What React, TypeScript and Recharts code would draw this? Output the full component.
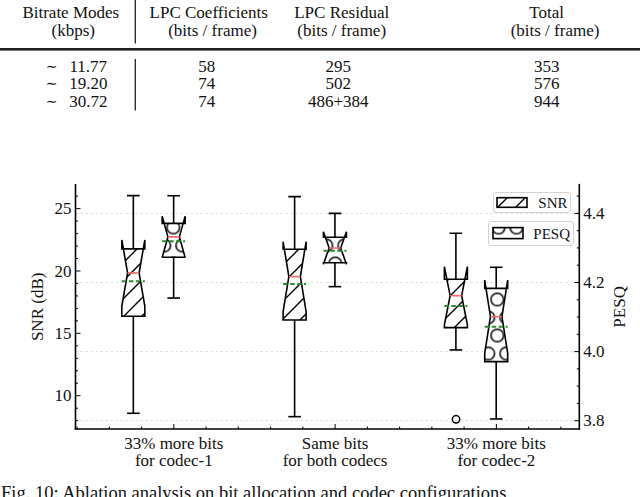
import React from 'react';
import { ComposedChart, Bar, Scatter, XAxis, YAxis, CartesianGrid, Legend } from 'recharts';

const FONT = '"Liberation Serif", "Times New Roman", Times, serif';
const INK = '#111';

// ---------------- table ----------------
const tableHeaderTop = ['Bitrate Modes', 'LPC Coefficients', 'LPC Residual', 'Total'];
const tableHeaderBottom = ['(kbps)', '(bits / frame)', '(bits / frame)', '(bits / frame)'];
const bitrateModes = ['11.77', '19.20', '30.72'];
const lpcCoefficientBits = ['58', '74', '74'];
const lpcResidualBits = ['295', '502', '486+384'];
const totalBits = ['353', '576', '944'];
const captionText = 'Fig. 10:  Ablation analysis on bit allocation and codec configurations';

// ---------------- chart ----------------
const groupLabelTop = ['33% more bits', 'Same bits', '33% more bits'];
const groupLabelBottom = ['for codec-1', 'for both codecs', 'for codec-2'];
const seriesNames = ['SNR', 'PESQ'];
const axisTitles = ['SNR (dB)', 'PESQ'];

const snrWhiskerHigh = [26.04, 25.96, 23.03];
const snrNotchHigh = [22.49, 22.35, 20.35];
const snrQ3 = [21.77, 21.74, 19.34];
const snrMedian = [19.84, 19.55, 18.02];
const snrMean = [19.18, 18.96, 17.2];
const snrNotchLow = [17.19, 16.75, 15.69];
const snrQ1 = [16.37, 16.07, 15.46];
const snrWhiskerLow = [8.59, 8.32, 13.67];
const snrOutlierGroup = [2];
const snrOutlierValue = [8.11];

const pesqWhiskerHigh = [4.451, 4.4, 4.244];
const pesqNotchHigh = [4.392, 4.347, 4.207];
const pesqQ3 = [4.371, 4.331, 4.183];
const pesqMedian = [4.332, 4.3, 4.101];
const pesqMean = [4.319, 4.292, 4.072];
const pesqNotchLow = [4.272, 4.253, 3.995];
const pesqQ1 = [4.273, 4.257, 3.971];
const pesqWhiskerLow = [4.155, 4.188, 3.805];

const snrDomain = [7.33, 26.92];
const pesqDomain = [3.776, 4.483];
const snrMajorTicks = [10, 15, 20, 25];
const snrMinorTicks = [8, 9, 11, 12, 13, 14, 16, 17, 18, 19, 21, 22, 23, 24, 26];
const pesqMajorTicks = [3.8, 4.0, 4.2, 4.4];
const pesqMinorTicks = [3.85, 3.9, 3.95, 4.05, 4.1, 4.15, 4.25, 4.3, 4.35, 4.45];
// x positions in "slot" units: SNR boxes at slots 0,4,8; PESQ boxes at 1,5,9
const xMajorTicks = [1, 5, 9];
const xMinorTicks = [-1.4, -0.6, 0.2, 1.8, 2.6, 3.4, 4.2, 5.8, 6.6, 7.4, 8.2, 9.8, 10.6];

// ---------------- layout ----------------
const W = 640;
const H = 497;
const PLOT_TOP = 184.7;
const LEFT_AXIS_W = 75.5;
const RIGHT_AXIS_W = 60.7;
const BOTTOM_AXIS_H = 68;
const SLOT_COUNT = 11;
const PAD_L = 37.84;
const PAD_R = 22.46;
const PLOT_W = W - LEFT_AXIS_W - RIGHT_AXIS_W;
const BAND = (PLOT_W - PAD_L - PAD_R) / SLOT_COUNT;
const xDomain = [-0.5 - PAD_L / BAND, SLOT_COUNT - 0.5 + PAD_R / BAND];
const BOX_HALF = 11.5;
const CAP_HALF = 6.3;
const LW = 1.6;

type Stats = { high: number; nhi: number; q3: number; med: number; mean: number; nlo: number; q1: number; low: number };

const snrStats = (g: number): Stats => ({
  high: snrWhiskerHigh[g], nhi: snrNotchHigh[g], q3: snrQ3[g], med: snrMedian[g],
  mean: snrMean[g], nlo: snrNotchLow[g], q1: snrQ1[g], low: snrWhiskerLow[g],
});
const pesqStats = (g: number): Stats => ({
  high: pesqWhiskerHigh[g], nhi: pesqNotchHigh[g], q3: pesqQ3[g], med: pesqMedian[g],
  mean: pesqMean[g], nlo: pesqNotchLow[g], q1: pesqQ1[g], low: pesqWhiskerLow[g],
});

const slotRows = Array.from({ length: SLOT_COUNT }, (_, slot) => {
  const g = Math.floor(slot / 4);
  const r = slot % 4;
  const row: any = { slot };
  if (g < groupLabelTop.length && r === 0) row.snr = snrStats(g);
  if (g < groupLabelTop.length && r === 1) row.pesq = pesqStats(g);
  return row;
});

const outlierRows = snrOutlierGroup.map((g, i) => ({ x: g * 4, y: snrOutlierValue[i] }));

const near = (a: number, list: number[]) => list.some((m) => Math.abs(m - a) < 1e-6);

function BoxGlyph(props: any) {
  const { x, y, width, height, stats, fill } = props;
  if (!stats || ![x, y, width, height].every((v: any) => Number.isFinite(v))) return null;
  const top = Math.min(y, y + height);
  const bottom = Math.max(y, y + height);
  const px = (v: number) => top + ((bottom - top) * (stats.high - v)) / (stats.high - stats.low);
  const cx = x + width / 2;
  const w = BOX_HALF;
  const pts = [
    [cx - w, px(stats.q1)], [cx + w, px(stats.q1)], [cx + w, px(stats.nlo)], [cx + w / 2, px(stats.med)],
    [cx + w, px(stats.nhi)], [cx + w, px(stats.q3)], [cx - w, px(stats.q3)], [cx - w, px(stats.nhi)],
    [cx - w / 2, px(stats.med)], [cx - w, px(stats.nlo)],
  ].map((p) => p.join(',')).join(' ');
  return (
    <g>
      <line x1={cx} x2={cx} y1={px(stats.q3)} y2={px(stats.high)} stroke="#000" strokeWidth={LW} />
      <line x1={cx} x2={cx} y1={px(stats.q1)} y2={px(stats.low)} stroke="#000" strokeWidth={LW} />
      <line x1={cx - CAP_HALF} x2={cx + CAP_HALF} y1={px(stats.high)} y2={px(stats.high)} stroke="#000" strokeWidth={LW} />
      <line x1={cx - CAP_HALF} x2={cx + CAP_HALF} y1={px(stats.low)} y2={px(stats.low)} stroke="#000" strokeWidth={LW} />
      <polygon points={pts} fill="#fff" />
      <polygon points={pts} fill={fill} stroke="#000" strokeWidth={LW} strokeLinejoin="miter" />
      <line x1={cx - w / 2} x2={cx + w / 2} y1={px(stats.med)} y2={px(stats.med)} stroke="#f06a6a" strokeWidth={1.6} />
      <line x1={cx - w} x2={cx + w} y1={px(stats.mean)} y2={px(stats.mean)} stroke="#2e8b2e" strokeWidth={2} strokeDasharray="4.5 2.5" />
    </g>
  );
}

const textStyle = { fontFamily: FONT, fontSize: 17, fill: INK } as const;

function LeftTick(props: any) {
  const { x, y, payload } = props;
  const v = payload.value;
  const major = near(v, snrMajorTicks);
  return (
    <g>
      <line x1={x} x2={x + (major ? 5 : 2.5)} y1={y} y2={y} stroke="#000" strokeWidth={1} />
      {major && (
        <text x={x - 4} y={y} dy="0.34em" textAnchor="end" style={textStyle}>{String(v)}</text>
      )}
    </g>
  );
}

function RightTick(props: any) {
  const { x, y, payload } = props;
  const v = payload.value;
  const major = near(v, pesqMajorTicks);
  return (
    <g>
      <line x1={x} x2={x - (major ? 5 : 2.5)} y1={y} y2={y} stroke="#000" strokeWidth={1} />
      {major && (
        <text x={x + 4} y={y} dy="0.34em" textAnchor="start" style={textStyle}>{v.toFixed(1)}</text>
      )}
    </g>
  );
}

function BottomTick(props: any) {
  const { x, y, payload } = props;
  const v = payload.value;
  const gi = xMajorTicks.findIndex((m) => Math.abs(m - v) < 1e-6);
  const major = gi >= 0;
  return (
    <g>
      <line x1={x} x2={x} y1={y} y2={y - (major ? 5 : 2.5)} stroke="#000" strokeWidth={1} />
      {major && (
        <text textAnchor="middle" style={textStyle}>
          <tspan x={x} y={y + 19.5}>{groupLabelTop[gi]}</tspan>
          <tspan x={x} y={y + 37}>{groupLabelBottom[gi]}</tspan>
        </text>
      )}
    </g>
  );
}

function TopTick(props: any) {
  const { x, y, payload } = props;
  const major = near(payload.value, xMajorTicks);
  return <line x1={x} x2={x} y1={y} y2={y + (major ? 5 : 2.5)} stroke="#000" strokeWidth={1} />;
}

const leftTitle = (props: any) => {
  const vb = props.viewBox || {};
  const x = vb.x + vb.width - 32.5;
  const y = vb.y + vb.height / 2;
  return (
    <text x={x} y={y} transform={`rotate(-90, ${x}, ${y})`} textAnchor="middle" style={textStyle}>{axisTitles[0]}</text>
  );
};
const rightTitle = (props: any) => {
  const vb = props.viewBox || {};
  const x = vb.x + 45.7;
  const y = vb.y + vb.height / 2;
  return (
    <text x={x} y={y} transform={`rotate(-90, ${x}, ${y})`} textAnchor="middle" style={textStyle}>{axisTitles[1]}</text>
  );
};

const legendFrames = [
  { left: 492.7, top: 191.7, width: 78, height: 21, px: 4, py: 5.7, pw: 30, ph: 9.6 },
  { left: 487.7, top: 220.7, width: 86.3, height: 25.3, px: 5, py: 6.6, pw: 30, ph: 11 },
];

function LegendContent(props: any) {
  const payload = (props.payload || []).filter((e: any) => seriesNames.includes(e.value));
  return (
    <div style={{ position: 'relative', width: W, height: 0 }}>
      {payload.map((entry: any) => {
        const i = seriesNames.indexOf(entry.value);
        const f = legendFrames[i];
        return (
          <div
            key={entry.value}
            style={{
              position: 'absolute', left: f.left, top: f.top, width: f.width, height: f.height,
              boxSizing: 'border-box', border: '1px solid #d2d2d2', borderRadius: 3,
              background: 'rgba(255,255,255,0.85)',
            }}
          >
            <svg width={f.width} height={f.height} style={{ position: 'absolute', left: -1, top: -1, overflow: 'visible' }}>
              <defs>
                <pattern id="lg-snr" patternUnits="userSpaceOnUse" x={2} y={0} width={18} height={18}>
                  <path d="M-2,2 L2,-2 M0,18 L18,0 M16,20 L20,16" stroke="#000" strokeWidth={1.4} />
                </pattern>
                <pattern id="lg-pesq" patternUnits="userSpaceOnUse" x={10.5} y={6.6} width={18} height={36}>
                  <g fill="none" stroke="#000" strokeWidth={1.5}>
                    <circle cx={0} cy={0} r={6.3} />
                    <circle cx={18} cy={0} r={6.3} />
                    <circle cx={0} cy={36} r={6.3} />
                    <circle cx={18} cy={36} r={6.3} />
                    <circle cx={9} cy={18} r={6.3} />
                  </g>
                </pattern>
              </defs>
              <rect x={f.px} y={f.py} width={f.pw} height={f.ph} fill="#fff" />
              <rect x={f.px} y={f.py} width={f.pw} height={f.ph} fill={i === 0 ? 'url(#lg-snr)' : 'url(#lg-pesq)'} stroke="#000" strokeWidth={1.6} />
              <text x={45.3} y={f.height / 2 + 0.5} dy="0.34em" style={{ fontFamily: FONT, fontSize: 15, fill: INK }}>{entry.value}</text>
            </svg>
          </div>
        );
      })}
    </div>
  );
}

function TableAndCaption() {
  const headCx1 = [70.8, 208.7, 341.7, 546.7];
  const headCx2 = [73.3, 212.5, 341.7, 555];
  const dataCx = [206.7, 338.3, 546.7];
  const rowBase = [71.7, 89.3, 106.7];
  const t = { ...textStyle, textAnchor: 'middle' as const };
  return (
    <svg width={W} height={H} style={{ position: 'absolute', left: 0, top: 0 }}>
      {tableHeaderTop.map((s, i) => (
        <text key={'h1' + i} x={headCx1[i]} y={18.3} textAnchor="middle" style={t}>{s}</text>
      ))}
      {tableHeaderBottom.map((s, i) => (
        <text key={'h2' + i} x={headCx2[i]} y={36} textAnchor="middle" style={t}>{s}</text>
      ))}
      {bitrateModes.map((s, r) => (
        <g key={'r' + r}>
          <text x={51.5} y={rowBase[r] - 1} textAnchor="middle" style={{ fontFamily: '"DejaVu Serif", serif', fontSize: 14, fill: INK }}>∼</text>
          <text x={88.3} y={rowBase[r]} textAnchor="middle" style={t}>{s}</text>
          <text x={dataCx[0]} y={rowBase[r]} textAnchor="middle" style={t}>{lpcCoefficientBits[r]}</text>
          <text x={dataCx[1]} y={rowBase[r]} textAnchor="middle" style={t}>{lpcResidualBits[r]}</text>
          <text x={dataCx[2]} y={rowBase[r]} textAnchor="middle" style={t}>{totalBits[r]}</text>
        </g>
      ))}
      <line x1={135.3} x2={135.3} y1={0} y2={43.5} stroke="#222" strokeWidth={1.3} />
      <line x1={135.3} x2={135.3} y1={59} y2={110.5} stroke="#222" strokeWidth={1.3} />
      <rect x={0} y={48} width={W} height={2.6} fill="#222" />
      <text x={1} y={499} style={{ fontFamily: FONT, fontSize: 18.5, fill: INK }}>{captionText}</text>
    </svg>
  );
}

const frameLine = { stroke: '#000', strokeWidth: 1.6, strokeLinecap: 'square' as const };

export default function App() {
  const xTicks = [...xMinorTicks, ...xMajorTicks].sort((a, b) => a - b);
  const snrTicks = [...snrMinorTicks, ...snrMajorTicks].sort((a, b) => a - b);
  const pesqTicks = [...pesqMinorTicks, ...pesqMajorTicks].sort((a, b) => a - b);
  return (
    <div style={{ position: 'absolute', left: 0, top: 0, width: W, height: H, overflow: 'hidden', background: '#fff' }}>
      <TableAndCaption />
      <div style={{ position: 'absolute', left: 0, top: 0 }}>
        <ComposedChart width={W} height={H} data={slotRows} margin={{ top: PLOT_TOP, right: 0, bottom: 0, left: 0 }}>
          <defs>
            <pattern id="hatch-snr" patternUnits="userSpaceOnUse" x={8} y={0} width={18} height={18}>
              <path d="M-2,2 L2,-2 M0,18 L18,0 M16,20 L20,16" stroke="#000" strokeWidth={1.4} />
            </pattern>
            <pattern id="hatch-pesq" patternUnits="userSpaceOnUse" x={2.3} y={29.5} width={18} height={36}>
              <g fill="none" stroke="#000" strokeWidth={1.5}>
                <circle cx={0} cy={0} r={6.3} />
                <circle cx={18} cy={0} r={6.3} />
                <circle cx={0} cy={36} r={6.3} />
                <circle cx={18} cy={36} r={6.3} />
                <circle cx={9} cy={18} r={6.3} />
              </g>
            </pattern>
          </defs>
          <XAxis xAxisId="slotsSnr" dataKey="slot" type="category" hide padding={{ left: PAD_L, right: PAD_R }} />
          <XAxis xAxisId="slotsPesq" dataKey="slot" type="category" hide padding={{ left: PAD_L, right: PAD_R }} />
          <XAxis
            xAxisId="bottom" dataKey="x" type="number" domain={xDomain} allowDataOverflow ticks={xTicks}
            interval={0} height={BOTTOM_AXIS_H} tickLine={false} tickSize={0} tickMargin={0}
            axisLine={frameLine} tick={(p: any) => <BottomTick {...p} />}
          />
          <XAxis
            xAxisId="top" orientation="top" dataKey="x" type="number" domain={xDomain} allowDataOverflow ticks={xTicks}
            interval={0} height={0} tickLine={false} tickSize={0} tickMargin={0}
            axisLine={frameLine} tick={(p: any) => <TopTick {...p} />}
          />
          <YAxis
            yAxisId="snr" orientation="left" type="number" width={LEFT_AXIS_W} domain={snrDomain} allowDataOverflow
            ticks={snrTicks} interval={0} tickLine={false} tickSize={0} tickMargin={0} axisLine={frameLine}
            tick={(p: any) => <LeftTick {...p} />} label={leftTitle}
          />
          <YAxis
            yAxisId="pesq" orientation="right" type="number" width={RIGHT_AXIS_W} domain={pesqDomain} allowDataOverflow
            ticks={pesqTicks} interval={0} tickLine={false} tickSize={0} tickMargin={0} axisLine={frameLine}
            tick={(p: any) => <RightTick {...p} />} label={rightTitle}
          />
          <CartesianGrid
            xAxisId="bottom" yAxisId="pesq" vertical={false} horizontalValues={pesqMajorTicks}
            stroke="#d6d6d6" strokeDasharray="2.5 2.5" strokeWidth={0.8}
          />
          <Bar
            name={seriesNames[0]} xAxisId="slotsSnr" yAxisId="snr" barSize={22}
            dataKey={(d: any) => (d.snr ? [d.snr.low, d.snr.high] : null)}
            shape={(p: any) => <BoxGlyph {...p} stats={p.payload && p.payload.snr} fill="url(#hatch-snr)" />}
            isAnimationActive={false} legendType="rect"
          />
          <Bar
            name={seriesNames[1]} xAxisId="slotsPesq" yAxisId="pesq" barSize={22}
            dataKey={(d: any) => (d.pesq ? [d.pesq.low, d.pesq.high] : null)}
            shape={(p: any) => <BoxGlyph {...p} stats={p.payload && p.payload.pesq} fill="url(#hatch-pesq)" />}
            isAnimationActive={false} legendType="rect"
          />
          <Scatter
            name="outliers" data={outlierRows} dataKey="y" xAxisId="bottom" yAxisId="snr" legendType="none"
            isAnimationActive={false}
            shape={(p: any) => <circle cx={p.cx} cy={p.cy} r={3.7} fill="none" stroke="#000" strokeWidth={1.5} />}
          />
          <Legend
            layout="horizontal" verticalAlign="middle" align="center"
            wrapperStyle={{ left: 0, top: 0, width: W, height: 0 }}
            content={(p: any) => <LegendContent {...p} />}
          />
        </ComposedChart>
      </div>
    </div>
  );
}
